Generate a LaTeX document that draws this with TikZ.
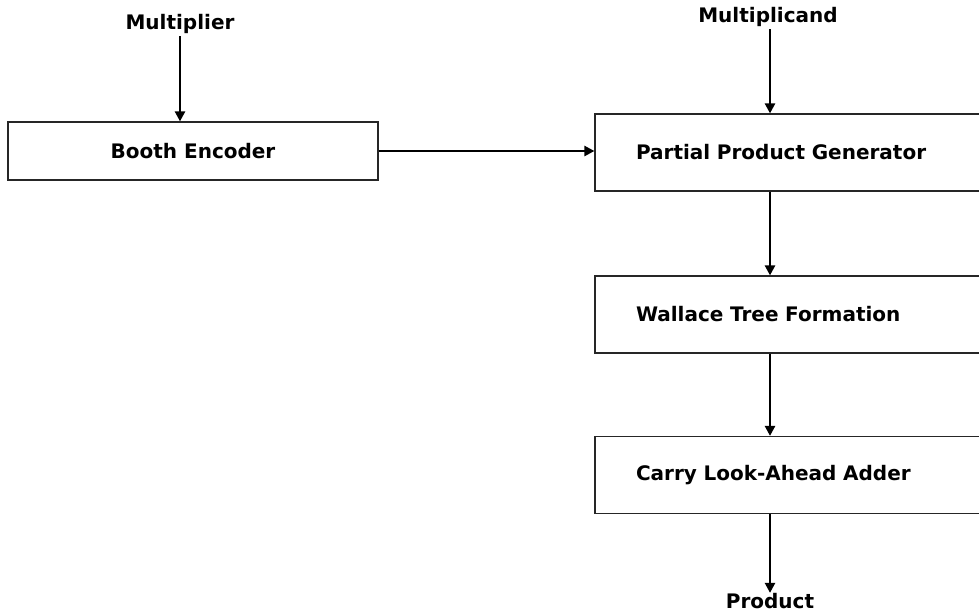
\documentclass[tikz,border=0pt]{standalone}
\usepackage{fontspec}
\setmainfont{DejaVu Sans}
\usetikzlibrary{arrows.meta,positioning}

\begin{document}
\begin{tikzpicture}[x=0.5pt,y=-0.5pt,>={Triangle[length=5pt,width=5pt]},
 blk/.style={draw=black!85,line width=.6pt,font=\bfseries\fontsize{10}{12}\selectfont,minimum height=38.5pt},
 stage/.style={blk,align=left,text width=169pt,inner xsep=20.5pt},
 sig/.style={font=\bfseries\fontsize{10}{12}\selectfont,inner sep=1pt},
 a/.style={->,line width=1.2pt}]
 \useasboundingbox (0,0) rectangle (979,611);
 \clip (0,0) rectangle (979,611);
 \fill[white] (0,0) rectangle (979,611);
 % left column: encoder fed by the multiplier
 \node[sig] (mulr) at (180,24) {Multiplier};
 \node[blk,minimum width=185pt,minimum height=29pt] (booth) at (193,151) {Booth Encoder};
 % right column: the multiplier datapath
 \node[sig] (mcand) at (768,17) {Multiplicand};
 \coordinate (axis) at (770,0);
 \node[stage] (ppg) at (805,152.5) {Partial Product Generator};
 \node[stage] (wtf) at (805,314.5) {Wallace Tree Formation};
 \node[stage] (cla) at (805,475) {Carry Look-Ahead Adder};
 \node[sig,inner sep=0pt] (prod) at (770,601) {Product};
 \draw[a] (mulr.south) -- (mulr.south |- booth.north);
 \draw[a] (booth.east) -- (booth.east -| ppg.west);
 \draw[a] (mcand.south -| axis) -- (ppg.north -| axis);
 \draw[a] (ppg.south -| axis) -- (wtf.north -| axis);
 \draw[a] (wtf.south -| axis) -- (cla.north -| axis);
 \draw[a] (cla.south -| axis) -- (prod.north -| axis);
\end{tikzpicture}
\end{document}
